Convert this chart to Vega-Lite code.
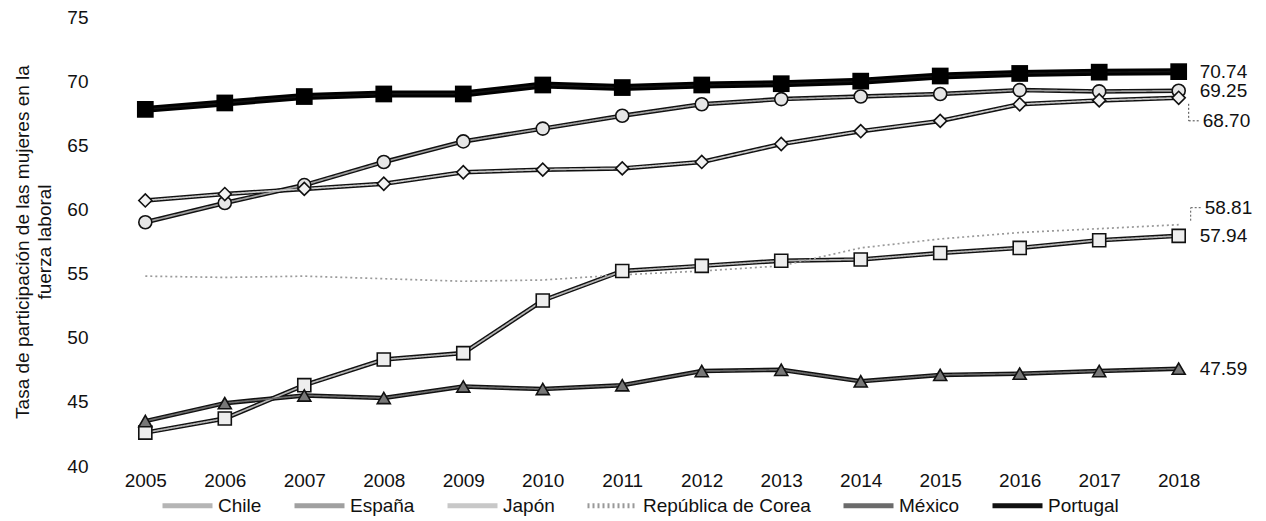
{
  "$schema": "https://vega.github.io/schema/vega-lite/v6.json",
  "width": 1124,
  "height": 449,
  "autosize": {"type": "none"},
  "padding": {"left": 100, "top": 17, "right": 42, "bottom": 55},
  "background": "white",
  "config": {
    "view": {"stroke": null},
    "font": "Liberation Sans",
    "text": {"font": "Liberation Sans"}
  },
  "data": {
    "values": [
      {"country": "Chile", "year": 2005, "value": 42.6},
      {"country": "Chile", "year": 2006, "value": 43.7},
      {"country": "Chile", "year": 2007, "value": 46.3},
      {"country": "Chile", "year": 2008, "value": 48.3},
      {"country": "Chile", "year": 2009, "value": 48.8},
      {"country": "Chile", "year": 2010, "value": 52.9},
      {"country": "Chile", "year": 2011, "value": 55.2},
      {"country": "Chile", "year": 2012, "value": 55.6},
      {"country": "Chile", "year": 2013, "value": 56.0},
      {"country": "Chile", "year": 2014, "value": 56.1},
      {"country": "Chile", "year": 2015, "value": 56.6},
      {"country": "Chile", "year": 2016, "value": 57.0},
      {"country": "Chile", "year": 2017, "value": 57.6},
      {"country": "Chile", "year": 2018, "value": 57.94},
      {"country": "España", "year": 2005, "value": 59.0},
      {"country": "España", "year": 2006, "value": 60.5},
      {"country": "España", "year": 2007, "value": 61.9},
      {"country": "España", "year": 2008, "value": 63.7},
      {"country": "España", "year": 2009, "value": 65.3},
      {"country": "España", "year": 2010, "value": 66.3},
      {"country": "España", "year": 2011, "value": 67.3},
      {"country": "España", "year": 2012, "value": 68.2},
      {"country": "España", "year": 2013, "value": 68.6},
      {"country": "España", "year": 2014, "value": 68.8},
      {"country": "España", "year": 2015, "value": 69.0},
      {"country": "España", "year": 2016, "value": 69.3},
      {"country": "España", "year": 2017, "value": 69.2},
      {"country": "España", "year": 2018, "value": 69.25},
      {"country": "Japón", "year": 2005, "value": 60.7},
      {"country": "Japón", "year": 2006, "value": 61.2},
      {"country": "Japón", "year": 2007, "value": 61.6},
      {"country": "Japón", "year": 2008, "value": 62.0},
      {"country": "Japón", "year": 2009, "value": 62.9},
      {"country": "Japón", "year": 2010, "value": 63.1},
      {"country": "Japón", "year": 2011, "value": 63.2},
      {"country": "Japón", "year": 2012, "value": 63.7},
      {"country": "Japón", "year": 2013, "value": 65.1},
      {"country": "Japón", "year": 2014, "value": 66.1},
      {"country": "Japón", "year": 2015, "value": 66.9},
      {"country": "Japón", "year": 2016, "value": 68.2},
      {"country": "Japón", "year": 2017, "value": 68.5},
      {"country": "Japón", "year": 2018, "value": 68.70},
      {"country": "República de Corea", "year": 2005, "value": 54.8},
      {"country": "República de Corea", "year": 2006, "value": 54.7},
      {"country": "República de Corea", "year": 2007, "value": 54.8},
      {"country": "República de Corea", "year": 2008, "value": 54.6},
      {"country": "República de Corea", "year": 2009, "value": 54.4},
      {"country": "República de Corea", "year": 2010, "value": 54.5},
      {"country": "República de Corea", "year": 2011, "value": 54.9},
      {"country": "República de Corea", "year": 2012, "value": 55.2},
      {"country": "República de Corea", "year": 2013, "value": 55.6},
      {"country": "República de Corea", "year": 2014, "value": 57.0},
      {"country": "República de Corea", "year": 2015, "value": 57.7},
      {"country": "República de Corea", "year": 2016, "value": 58.2},
      {"country": "República de Corea", "year": 2017, "value": 58.5},
      {"country": "República de Corea", "year": 2018, "value": 58.81},
      {"country": "México", "year": 2005, "value": 43.5},
      {"country": "México", "year": 2006, "value": 44.9},
      {"country": "México", "year": 2007, "value": 45.5},
      {"country": "México", "year": 2008, "value": 45.3},
      {"country": "México", "year": 2009, "value": 46.2},
      {"country": "México", "year": 2010, "value": 46.0},
      {"country": "México", "year": 2011, "value": 46.3},
      {"country": "México", "year": 2012, "value": 47.4},
      {"country": "México", "year": 2013, "value": 47.5},
      {"country": "México", "year": 2014, "value": 46.6},
      {"country": "México", "year": 2015, "value": 47.1},
      {"country": "México", "year": 2016, "value": 47.2},
      {"country": "México", "year": 2017, "value": 47.4},
      {"country": "México", "year": 2018, "value": 47.59},
      {"country": "Portugal", "year": 2005, "value": 67.8},
      {"country": "Portugal", "year": 2006, "value": 68.3},
      {"country": "Portugal", "year": 2007, "value": 68.8},
      {"country": "Portugal", "year": 2008, "value": 69.0},
      {"country": "Portugal", "year": 2009, "value": 69.0},
      {"country": "Portugal", "year": 2010, "value": 69.7},
      {"country": "Portugal", "year": 2011, "value": 69.5},
      {"country": "Portugal", "year": 2012, "value": 69.7},
      {"country": "Portugal", "year": 2013, "value": 69.8},
      {"country": "Portugal", "year": 2014, "value": 70.0},
      {"country": "Portugal", "year": 2015, "value": 70.4},
      {"country": "Portugal", "year": 2016, "value": 70.6},
      {"country": "Portugal", "year": 2017, "value": 70.7},
      {"country": "Portugal", "year": 2018, "value": 70.74}
    ]
  },
  "encoding": {
    "x": {
      "field": "year",
      "type": "ordinal",
      "scale": {"type": "point", "padding": 0.57},
      "axis": {
        "title": null,
        "labelAngle": 0,
        "labelFontSize": 19,
        "labelColor": "#111",
        "labelFont": "Liberation Sans",
        "domain": false,
        "ticks": false,
        "labelPadding": 5
      }
    },
    "y": {
      "field": "value",
      "type": "quantitative",
      "scale": {"domain": [40, 75], "nice": false, "zero": false},
      "axis": {
        "values": [40, 45, 50, 55, 60, 65, 70, 75],
        "grid": false,
        "domain": false,
        "ticks": false,
        "labelFontSize": 19,
        "labelColor": "#111",
        "labelFont": "Liberation Sans",
        "labelPadding": 12,
        "title": ["Tasa de participación de las mujeres en la", "fuerza laboral"],
        "titleFont": "Liberation Sans",
        "titleFontSize": 19,
        "titleFontWeight": "normal",
        "titleColor": "#111",
        "titlePadding": 12,
        "titleLineHeight": 22
      }
    }
  },
  "layer": [
    {
      "transform": [{"filter": "indexof(['Chile','España','Japón','México'], datum.country) >= 0"}],
      "mark": {"type": "line", "color": "#111", "strokeWidth": 4.5},
      "encoding": {"detail": {"field": "country"}}
    },
    {
      "transform": [{"filter": "datum.country === 'Portugal'"}],
      "mark": {"type": "line", "color": "#000", "strokeWidth": 7},
      "encoding": {}
    },
    {
      "mark": {"type": "line", "strokeWidth": 1.7},
      "encoding": {
        "color": {
          "field": "country",
          "type": "nominal",
          "scale": {
            "domain": ["Chile", "España", "Japón", "República de Corea", "México", "Portugal"],
            "range": ["#b5b5b5", "#a0a0a0", "#c8c8c8", "#9a9a9a", "#6b6b6b", "#111111"]
          },
          "legend": {
            "title": null,
            "orient": "none",
            "legendX": 60,
            "legendY": 461,
            "direction": "horizontal",
            "symbolType": "stroke",
            "symbolSize": 2500,
            "symbolStrokeWidth": 5,
            "labelFontSize": 19,
            "labelFont": "Liberation Sans",
            "labelColor": "#111",
            "labelLimit": 400,
            "columnPadding": 22,
            "labelOffset": 3
          }
        },
        "strokeDash": {
          "field": "country",
          "type": "nominal",
          "scale": {
            "domain": ["Chile", "España", "Japón", "República de Corea", "México", "Portugal"],
            "range": [[1, 0], [1, 0], [1, 0], [2, 3], [1, 0], [1, 0]]
          },
          "legend": {
            "title": null,
            "orient": "none",
            "legendX": 60,
            "legendY": 461,
            "direction": "horizontal",
            "symbolType": "stroke",
            "symbolSize": 2500,
            "symbolStrokeWidth": 5,
            "labelFontSize": 19,
            "labelFont": "Liberation Sans",
            "labelColor": "#111",
            "labelLimit": 400,
            "columnPadding": 22,
            "labelOffset": 3
          }
        }
      }
    },
    {
      "transform": [{"filter": "indexof(['Chile','España','Japón','México'], datum.country) >= 0"}],
      "mark": {"type": "point", "filled": true, "stroke": "#111", "strokeWidth": 1.6, "size": 170, "opacity": 1},
      "encoding": {
        "shape": {
          "field": "country",
          "type": "nominal",
          "scale": {"domain": ["Chile", "España", "Japón", "México"], "range": ["square", "circle", "diamond", "triangle-up"]},
          "legend": null
        },
        "fill": {
          "field": "country",
          "type": "nominal",
          "scale": {"domain": ["Chile", "España", "Japón", "México"], "range": ["#eeeeee", "#e6e6e6", "#f2f2f2", "#777777"]},
          "legend": null
        }
      }
    },
    {
      "transform": [{"filter": "datum.country === 'Portugal'"}],
      "mark": {"type": "point", "shape": "square", "filled": true, "color": "#000", "size": 280, "opacity": 1},
      "encoding": {}
    },
    {
      "transform": [{"filter": "datum.year === 2018 && indexof(['Chile','España','México','Portugal'], datum.country) >= 0"}],
      "mark": {"type": "text", "align": "left", "baseline": "middle", "dx": 21, "fontSize": 19, "color": "#111"},
      "encoding": {"text": {"field": "value", "type": "quantitative", "format": ".2f"}}
    },
    {
      "transform": [{"filter": "datum.year === 2018 && datum.country === 'Japón'"}],
      "mark": {"type": "text", "align": "left", "baseline": "middle", "dx": 24, "dy": 23, "fontSize": 19, "color": "#111"},
      "encoding": {"text": {"field": "value", "type": "quantitative", "format": ".2f"}}
    },
    {
      "transform": [{"filter": "datum.year === 2018 && datum.country === 'República de Corea'"}],
      "mark": {"type": "text", "align": "left", "baseline": "middle", "dx": 26, "dy": -17, "fontSize": 19, "color": "#111"},
      "encoding": {"text": {"field": "value", "type": "quantitative", "format": ".2f"}}
    },
    {
      "transform": [{"filter": "datum.year === 2018 && datum.country === 'Japón'"}],
      "mark": {"type": "rule", "xOffset": 10, "yOffset": 6, "y2Offset": 23, "strokeDash": [2, 2], "color": "#444", "strokeWidth": 1},
      "encoding": {"y2": {"field": "value"}}
    },
    {
      "transform": [{"filter": "datum.year === 2018 && datum.country === 'Japón'"}],
      "mark": {"type": "rule", "xOffset": 10, "x2Offset": 21, "yOffset": 23, "strokeDash": [2, 2], "color": "#444", "strokeWidth": 1},
      "encoding": {"x2": {"field": "year"}}
    },
    {
      "transform": [{"filter": "datum.year === 2018 && datum.country === 'República de Corea'"}],
      "mark": {"type": "rule", "xOffset": 12, "yOffset": -4, "y2Offset": -17, "strokeDash": [2, 2], "color": "#555", "strokeWidth": 1},
      "encoding": {"y2": {"field": "value"}}
    },
    {
      "transform": [{"filter": "datum.year === 2018 && datum.country === 'República de Corea'"}],
      "mark": {"type": "rule", "xOffset": 12, "x2Offset": 23, "yOffset": -17, "strokeDash": [2, 2], "color": "#555", "strokeWidth": 1},
      "encoding": {"x2": {"field": "year"}}
    }
  ]
}
